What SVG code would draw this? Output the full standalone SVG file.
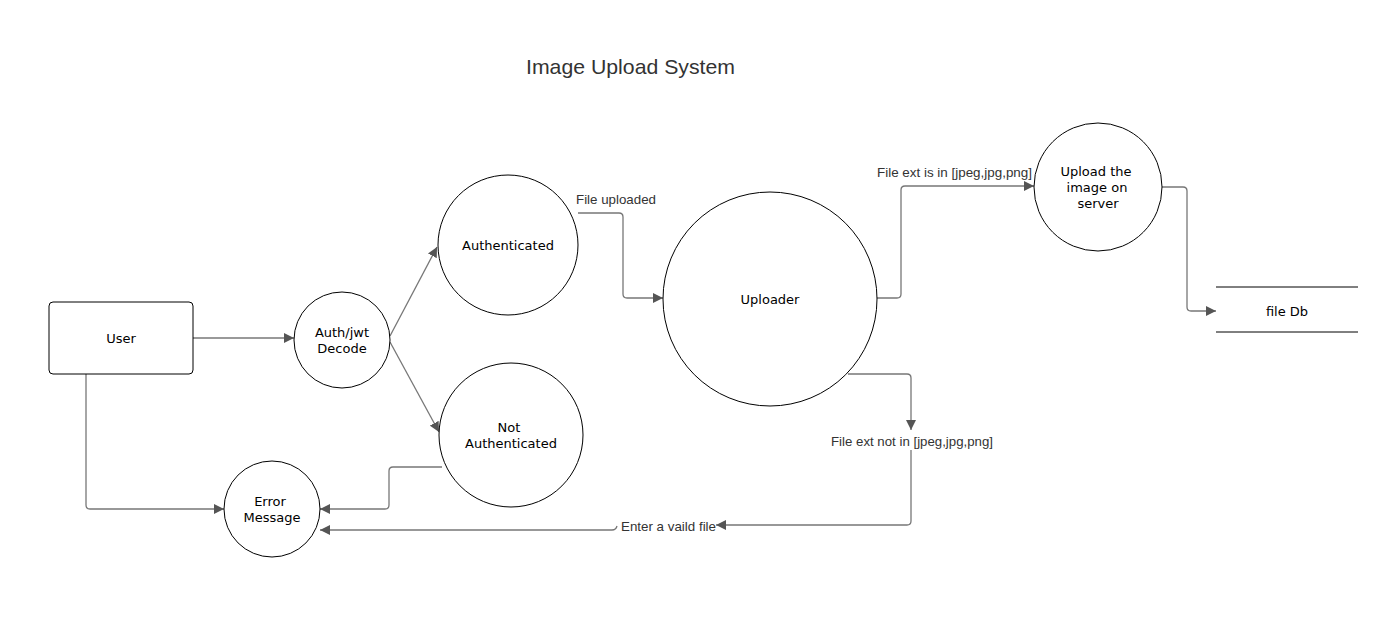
<svg xmlns="http://www.w3.org/2000/svg" width="1389" height="643" viewBox="0 0 1389 643">
<defs>
<marker id="arr" viewBox="0 0 10 10" refX="10" refY="5" markerWidth="10" markerHeight="10" markerUnits="userSpaceOnUse" orient="auto">
<path d="M0,0 L10,5 L0,10 Z" fill="#555"/>
</marker>
<style>
.node{fill:#fff;stroke:#000;stroke-width:1}
.nt{font-family:"DejaVu Sans",Verdana,sans-serif;font-size:13px;fill:#000;text-anchor:middle}
.lbl{font-family:"Liberation Sans",Arial,sans-serif;font-size:13px;fill:#333}
.c{fill:none;stroke:#777;stroke-width:1.3;marker-end:url(#arr)}
</style>
</defs>
<rect width="1389" height="643" fill="#fff"/>
<text x="630.5" y="74" font-family="'Liberation Sans',Arial,sans-serif" font-size="21" fill="#333" text-anchor="middle" textLength="209" lengthAdjust="spacingAndGlyphs">Image Upload System</text>
<g id="connectors">
<path class="c" d="M193,338 L294,338"/>
<path class="c" d="M390,336 L437,247"/>
<path class="c" d="M390,342 L439,432"/>
<path class="c" d="M86,374 L86,505 Q86,509 90,509 L224,509"/>
<path class="c" d="M442,467 L393,467 Q389,467 389,471 L389,505 Q389,509 385,509 L320,509"/>
<path class="c" d="M578,213 L619,213 Q623,213 623,217 L623,294 Q623,298 627,298 L663,298"/>
<path class="c" d="M877,298 L897,298 Q901,298 901,294 L901,190 Q901,186 905,186 L1034,186"/>
<path class="c" d="M848,374 L907,374 Q911,374 911,378 L911,430"/>
<path class="c" d="M911,450 L911,521 Q911,525 907,525 L716,525"/>
<path class="c" d="M617,526 Q616,530 612,530 L320,530"/>
<path class="c" d="M1162,187 L1183,187 Q1187,187 1187,191 L1187,307 Q1187,311 1191,311 L1216,311"/>
<text class="lbl" x="576" y="204" textLength="80" lengthAdjust="spacingAndGlyphs">File uploaded</text>
<text class="lbl" x="877" y="177" textLength="155" lengthAdjust="spacingAndGlyphs">File ext is in [jpeg,jpg,png]</text>
<text class="lbl" x="831" y="446" textLength="162" lengthAdjust="spacingAndGlyphs">File ext not in [jpeg,jpg,png]</text>
<text class="lbl" x="621" y="531" textLength="95" lengthAdjust="spacingAndGlyphs">Enter a vaild file</text>
</g>
<g id="user">
<rect class="node" x="49" y="302" width="144" height="72" rx="4"/>
<text class="nt" x="121" y="343">User</text>
</g>
<g id="auth">
<circle class="node" cx="342" cy="340" r="48"/>
<text class="nt" x="342" y="337">Auth/jwt</text>
<text class="nt" x="342" y="353">Decode</text>
</g>
<g id="authenticated">
<circle class="node" cx="508" cy="245" r="70"/>
<text class="nt" x="508" y="250">Authenticated</text>
</g>
<g id="notauthenticated">
<circle class="node" cx="511" cy="435" r="72"/>
<text class="nt" x="509" y="432">Not</text>
<text class="nt" x="511" y="448">Authenticated</text>
</g>
<g id="error">
<circle class="node" cx="272" cy="509" r="48"/>
<text class="nt" x="270" y="506">Error</text>
<text class="nt" x="272" y="522">Message</text>
</g>
<g id="uploader">
<circle class="node" cx="770" cy="299" r="107"/>
<text class="nt" x="770" y="304">Uploader</text>
</g>
<g id="uploadserver">
<circle class="node" cx="1098" cy="187" r="64"/>
<text class="nt" x="1096" y="176">Upload the</text>
<text class="nt" x="1097" y="192">image on</text>
<text class="nt" x="1098" y="208">server</text>
</g>
<g id="filedb">
<line x1="1216" y1="287" x2="1358" y2="287" stroke="#000" stroke-width="1"/>
<line x1="1216" y1="332" x2="1358" y2="332" stroke="#000" stroke-width="1"/>
<text class="nt" x="1287" y="316">file Db</text>
</g>
</svg>
